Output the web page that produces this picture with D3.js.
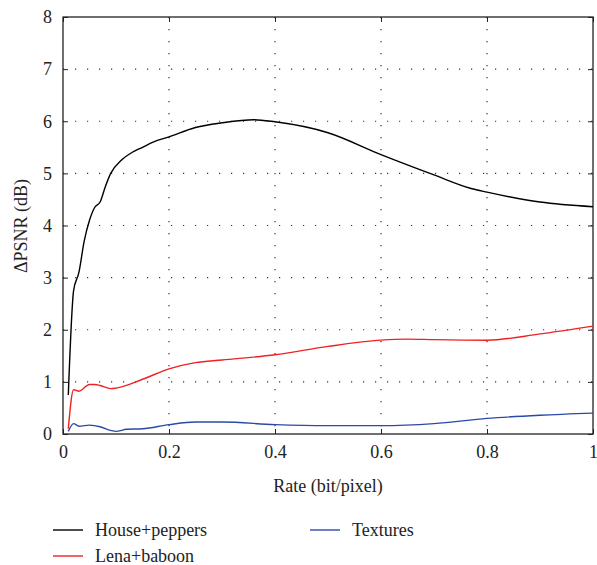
<!DOCTYPE html>
<html>
<head>
<meta charset="utf-8">
<script src="https://cdn.jsdelivr.net/npm/d3@7"></script>
<style>
  body { margin: 0; background: #fff; }
  svg text { font-family: "Liberation Serif", "DejaVu Serif", serif; fill: #222; }
</style>
</head>
<body>
<svg width="597" height="565"></svg>
<script>
var seriesNames = ['House+peppers', 'Lena+baboon', 'Textures'];
var seriesColors = ['#000000', '#ee2222', '#2a4aa8'];

var rateHouse = [0.01, 0.02, 0.03, 0.04, 0.05, 0.06, 0.07, 0.08, 0.09, 0.11, 0.13, 0.15, 0.17, 0.2, 0.25, 0.3, 0.36, 0.4, 0.5, 0.6, 0.7, 0.77, 0.8, 0.9, 1.0];
var psnrHouse = [0.75, 2.75, 3.1, 3.7, 4.1, 4.35, 4.45, 4.75, 5.0, 5.25, 5.4, 5.5, 5.6, 5.7, 5.88, 5.97, 6.03, 5.99, 5.78, 5.36, 4.97, 4.71, 4.64, 4.45, 4.36];

var rateLena = [0.01, 0.02, 0.03, 0.05, 0.06, 0.07, 0.09, 0.1, 0.15, 0.2, 0.25, 0.3, 0.4, 0.5, 0.6, 0.65, 0.7, 0.8, 0.9, 1.0];
var psnrLena = [0.1, 0.85, 0.82, 0.95, 0.95, 0.93, 0.87, 0.88, 1.05, 1.25, 1.37, 1.42, 1.52, 1.68, 1.8, 1.82, 1.81, 1.8, 1.92, 2.07];

var rateTex = [0.01, 0.02, 0.03, 0.05, 0.07, 0.09, 0.1, 0.12, 0.15, 0.2, 0.25, 0.3, 0.4, 0.5, 0.6, 0.7, 0.8, 0.9, 1.0];
var psnrTex = [0.05, 0.2, 0.15, 0.17, 0.14, 0.07, 0.05, 0.09, 0.1, 0.18, 0.23, 0.23, 0.18, 0.16, 0.16, 0.2, 0.3, 0.36, 0.4];

var xTicks = [0, 0.2, 0.4, 0.6, 0.8, 1];
var yTicks = [0, 1, 2, 3, 4, 5, 6, 7, 8];

var svg = d3.select('svg');
var plotL = 63, plotR = 593, plotT = 17, plotB = 434;

var x = d3.scaleLinear().domain([0, 1]).range([plotL, plotR]);
var y = d3.scaleLinear().domain([0, 8]).range([plotB, plotT]);

// dotted grid
svg.append('g').selectAll('line').data(yTicks.slice(1, -1)).enter().append('line')
    .attr('x1', plotL).attr('x2', plotR)
    .attr('y1', function(d) { return y(d); }).attr('y2', function(d) { return y(d); })
    .attr('stroke', '#333').attr('stroke-width', 1.2)
    .attr('stroke-dasharray', '1.2,10.8');
svg.append('g').selectAll('line').data(xTicks.slice(1, -1)).enter().append('line')
    .attr('y1', plotT).attr('y2', plotB)
    .attr('x1', function(d) { return x(d); }).attr('x2', function(d) { return x(d); })
    .attr('stroke', '#333').attr('stroke-width', 1.2)
    .attr('stroke-dasharray', '1.2,10.8');

// axes with inward ticks on all sides
svg.append('g').attr('transform', 'translate(0,' + plotB + ')')
    .call(d3.axisBottom(x).tickValues(xTicks).tickSize(-5).tickPadding(11).tickFormat(d3.format('')))
    .call(function(g) { g.select('.domain').remove(); });
svg.append('g').attr('transform', 'translate(0,' + plotT + ')')
    .call(d3.axisTop(x).tickValues(xTicks).tickSize(-5).tickFormat(''))
    .call(function(g) { g.select('.domain').remove(); });
svg.append('g').attr('transform', 'translate(' + plotL + ',0)')
    .call(d3.axisLeft(y).tickValues(yTicks).tickSize(-5).tickPadding(11))
    .call(function(g) { g.select('.domain').remove(); });
svg.append('g').attr('transform', 'translate(' + plotR + ',0)')
    .call(d3.axisRight(y).tickValues(yTicks).tickSize(-5).tickFormat(''))
    .call(function(g) { g.select('.domain').remove(); });

svg.selectAll('.tick line').attr('stroke', '#222');
svg.selectAll('.tick text').attr('font-size', 18).attr('fill', '#222')
    .style('font-family', '"Liberation Serif", serif');

svg.append('rect')
    .attr('x', plotL).attr('y', plotT)
    .attr('width', plotR - plotL).attr('height', plotB - plotT)
    .attr('fill', 'none').attr('stroke', '#222').attr('stroke-width', 1.3);

// curves
var line = d3.line()
    .x(function(d) { return x(d[0]); })
    .y(function(d) { return y(d[1]); })
    .curve(d3.curveMonotoneX);

var series = [
    d3.zip(rateHouse, psnrHouse),
    d3.zip(rateLena, psnrLena),
    d3.zip(rateTex, psnrTex)
];

svg.append('g').selectAll('path').data(series).enter().append('path')
    .attr('d', line)
    .attr('fill', 'none')
    .attr('stroke', function(d, i) { return seriesColors[i]; })
    .attr('stroke-width', 1.4);

// axis titles
svg.append('text')
    .attr('x', (plotL + plotR) / 2).attr('y', 492)
    .attr('text-anchor', 'middle').attr('font-size', 18)
    .text('Rate (bit/pixel)');
svg.append('text')
    .attr('transform', 'translate(27,' + 226 + ') rotate(-90)')
    .attr('text-anchor', 'middle').attr('font-size', 18)
    .text('\u0394PSNR (dB)');

// legend
var legendPos = [[53, 530], [53, 556], [310, 530]];
var legend = svg.append('g').selectAll('g').data(seriesNames).enter().append('g')
    .attr('transform', function(d, i) { return 'translate(' + legendPos[i][0] + ',' + legendPos[i][1] + ')'; });
legend.append('line')
    .attr('x1', 0).attr('x2', 30).attr('y1', 0).attr('y2', 0)
    .attr('stroke', function(d, i) { return seriesColors[i]; })
    .attr('stroke-width', 1.4);
legend.append('text')
    .attr('x', 42).attr('y', 6)
    .attr('font-size', 18)
    .text(function(d) { return d; });
</script>
</body>
</html>
